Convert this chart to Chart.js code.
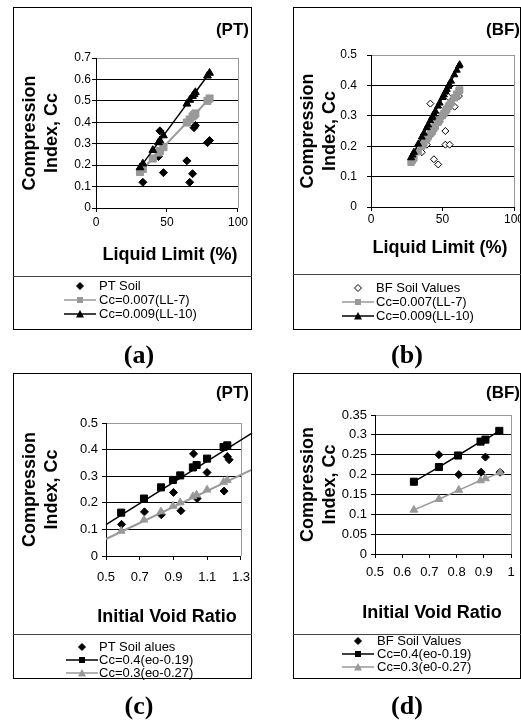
<!DOCTYPE html>
<html>
<head>
<meta charset="utf-8">
<title>Compression index correlations</title>
<script src="https://cdn.jsdelivr.net/npm/chart.js@4.4.1/dist/chart.umd.min.js"></script>
<style>
  html, body { margin: 0; padding: 0; background: #fff; }
  body { position: relative; width: 521px; height: 724px; overflow: hidden;
         font-family: Arial, "Liberation Sans", sans-serif; color: #000; }
  canvas, .frame, .sep, .tag, .row, .caption { position: absolute; }
  .frame { border: 1px solid #000; box-sizing: border-box; }
  .sep { height: 0; border-top: 1px solid #444; }
  .tag { font-weight: bold; font-size: 17px; line-height: 20px; transform: translate(-100%, -50%); white-space: nowrap; }
  .row { font-size: 13px; line-height: 14px; white-space: nowrap; }
  .row svg { position: absolute; top: 1px; }
  .caption { font-family: "Times New Roman", "Liberation Serif", serif; font-weight: bold;
             font-size: 26px; line-height: 30px; transform: translate(-50%, -50%); }
</style>
</head>
<body>
<script>
// (a) PT soil: liquid limit (%) against compression index
const ptLL    = [33, 44, 45, 47.5, 64, 66, 68, 69, 70, 78.5, 80];
const ptCc    = [0.12, 0.24, 0.36, 0.165, 0.22, 0.12, 0.16, 0.375, 0.385, 0.305, 0.315];
const ptFitLL = [31, 33, 40, 44, 45, 47.5, 64, 66, 68, 69, 70, 78.5, 80];
const ptFit7  = [0.168, 0.182, 0.231, 0.259, 0.266, 0.284, 0.399, 0.413, 0.427, 0.434, 0.441, 0.5, 0.511];
const ptFit10 = [0.189, 0.207, 0.27, 0.306, 0.315, 0.338, 0.486, 0.504, 0.522, 0.531, 0.54, 0.617, 0.63];

// (b) BF soil: liquid limit (%) against compression index
const bfLL    = [35.5, 39, 41.5, 42.5, 44, 47, 48, 50.5, 52, 52, 54, 55, 58.5, 61.5];
const bfCc    = [0.18, 0.205, 0.34, 0.24, 0.157, 0.14, 0.28, 0.3, 0.25, 0.205, 0.362, 0.205, 0.33, 0.365];
const bfFitLL = [28, 29, 30, 33, 35.5, 37, 39, 40, 41.5, 42.5, 43, 44, 45, 46.9, 48, 50, 51, 52.2, 53, 54.1, 54.8, 56, 58.3, 60, 61.5, 62];
const bfFit7  = [0.147, 0.154, 0.161, 0.182, 0.2, 0.21, 0.224, 0.231, 0.242, 0.249, 0.252, 0.259, 0.266, 0.279, 0.287,
                 0.301, 0.308, 0.316, 0.322, 0.33, 0.335, 0.343, 0.359, 0.371, 0.382, 0.385];
const bfFit10 = [0.162, 0.171, 0.18, 0.207, 0.23, 0.243, 0.261, 0.27, 0.284, 0.293, 0.297, 0.306, 0.315, 0.332, 0.342,
                 0.36, 0.369, 0.38, 0.387, 0.397, 0.403, 0.414, 0.435, 0.45, 0.464, 0.468];

// (c) PT soil: initial void ratio against compression index
const ptE       = [0.592, 0.728, 0.828, 0.9, 0.944, 1.019, 1.04, 1.099, 1.2, 1.219, 1.23];
const ptCcE     = [0.119, 0.166, 0.155, 0.239, 0.17, 0.384, 0.216, 0.314, 0.244, 0.374, 0.362];
const ptFitE    = [0.59, 0.725, 0.826, 0.897, 0.94, 1.015, 1.037, 1.099, 1.197, 1.219];
const ptFit019  = [0.163, 0.216, 0.258, 0.286, 0.303, 0.333, 0.342, 0.366, 0.41, 0.416];
const ptFit027  = [0.094, 0.136, 0.167, 0.188, 0.201, 0.224, 0.23, 0.249, 0.278, 0.285];
const ptTrendE  = [0.5, 1.365];
const ptTrend019 = [0.118, 0.462];
const ptTrend027 = [0.064, 0.325];

// (d) BF soil: initial void ratio against compression index
const bfE      = [0.735, 0.808, 0.89, 0.906, 0.96];
const bfCcE    = [0.25, 0.2, 0.206, 0.244, 0.206];
const bfFitE   = [0.643, 0.735, 0.805, 0.888, 0.906, 0.957];
const bfFit019 = [0.182, 0.219, 0.248, 0.283, 0.288, 0.31];
const bfFitE2  = [0.643, 0.735, 0.808, 0.888, 0.906, 0.96];
const bfFit027 = [0.111, 0.138, 0.161, 0.185, 0.19, 0.205];

// axis ranges: [min, max, step]
const llRange  = [0, 100, 50];
const ccRangeA = [0, 0.7, 0.1];
const ccRangeB = [0, 0.5, 0.1];
const eRangeC  = [0.5, 1.3, 0.2];
const ccRangeC = [0, 0.5, 0.1];
const eRangeD  = [0.5, 1, 0.1];
const ccRangeD = [0, 0.35, 0.05];

const legendA = ['PT Soil', 'Cc=0.007(LL-7)', 'Cc=0.009(LL-10)'];
const legendB = ['BF Soil Values', 'Cc=0.007(LL-7)', 'Cc=0.009(LL-10)'];
const legendC = ['PT Soil alues', 'Cc=0.4(eo-0.19)', 'Cc=0.3(eo-0.27)'];
const legendD = ['BF Soil Values', 'Cc=0.4(eo-0.19)', 'Cc=0.3(e0-0.27)'];

const FONT = 'Arial, "Liberation Sans", sans-serif';
const GRAY = '#999';
const BLACK = '#000';

const fmt = v => String(+(+v).toFixed(2));
const pts = (xs, ys) => xs.map((x, i) => ({ x, y: ys[i] }));

function soil(xs, ys, open, r, order) {
  return { data: pts(xs, ys), showLine: false, pointStyle: 'rectRot', pointRadius: r,
           pointBackgroundColor: open ? '#fff' : BLACK, pointBorderColor: BLACK, pointBorderWidth: 1, order };
}
function series(xs, ys, color, style, r, lw, order) {
  return { data: pts(xs, ys), showLine: lw > 0, borderColor: color, borderWidth: lw, pointStyle: style,
           pointRadius: r, pointBackgroundColor: color, pointBorderColor: color, pointBorderWidth: 1, order };
}
function trend(xs, ys, color, lw, order) {
  return { data: pts(xs, ys), showLine: true, borderColor: color, borderWidth: lw, pointRadius: 0, clip: false, order };
}

// grey right edge of the plot area
const plotFrame = {
  id: 'plotFrame',
  beforeDatasetsDraw(chart) {
    const { ctx, chartArea: a } = chart;
    const x = Math.round(a.right) + 0.5;
    ctx.save();
    ctx.strokeStyle = GRAY;
    ctx.lineWidth = 1;
    ctx.beginPath();
    ctx.moveTo(x, a.top);
    ctx.lineTo(x, a.bottom);
    ctx.stroke();
    ctx.restore();
  }
};

// x axis title, placed freely so it is not squeezed to the plot width
const xTitle = {
  id: 'xTitle',
  afterDraw(chart, args, opts) {
    const ctx = chart.ctx;
    ctx.save();
    ctx.font = 'bold 18px ' + FONT;
    ctx.fillStyle = BLACK;
    ctx.textAlign = 'center';
    ctx.textBaseline = 'middle';
    ctx.fillText(opts.text, opts.x, opts.y);
    ctx.restore();
  }
};

function makeChart(p, datasets) {
  const [cx, cy, cw, ch] = p.canvas;
  const cv = document.createElement('canvas');
  cv.width = cw;
  cv.height = ch;
  Object.assign(cv.style, { left: cx + 'px', top: cy + 'px', width: cw + 'px', height: ch + 'px' });
  document.body.appendChild(cv);

  const left = p.plot[0] - cx, top = p.plot[1] - cy;
  const right = p.plot[2] - cx, bottom = p.plot[3] - cy;
  const lh = 18 * 1.25;
  const titleFont = { family: FONT, size: 18, weight: 'bold', lineHeight: 1.25 };
  const tickFont = { family: FONT, size: p.tickSize };
  const [xMin, xMax, xStep] = p.xRange;
  const [yMin, yMax, yStep] = p.yRange;

  new Chart(cv, {
    type: 'scatter',
    data: { datasets },
    options: {
      responsive: false,
      animation: false,
      devicePixelRatio: 1,
      layout: { padding: { left: 0, top, right: cw - right, bottom: 0 } },
      plugins: {
        legend: { display: false },
        tooltip: { enabled: false },
        xTitle: { text: p.xTitle, x: p.xTitlePos[0] - cx, y: p.xTitlePos[1] - cy }
      },
      elements: { line: { tension: 0 } },
      scales: {
        x: {
          type: 'linear', min: xMin, max: xMax,
          ticks: { stepSize: xStep, callback: fmt, color: BLACK, font: tickFont, padding: p.xTickPad,
                   maxRotation: 0, autoSkip: false },
          grid: { drawOnChartArea: false, tickLength: 4, color: BLACK },
          border: { color: BLACK, width: 1 },
          afterFit: s => { s.height = ch - bottom; }
        },
        y: {
          type: 'linear', min: yMin, max: yMax,
          ticks: { stepSize: yStep, callback: fmt, color: BLACK, font: tickFont, padding: p.yTickPad },
          grid: { color: c => (c.tick && c.tick.value >= yMax - 1e-9) ? GRAY : BLACK, tickColor: BLACK, tickLength: 4 },
          border: { color: BLACK, width: 1 },
          title: { display: true, text: ['Compression', 'Index, Cc'], color: BLACK, font: titleFont,
                   padding: { top: p.yTitleX - cx - lh / 2, bottom: 0 } },
          afterFit: s => { s.width = left; }
        }
      }
    },
    plugins: [plotFrame, xTitle]
  });
}

function icon(shape, color, line) {
  let s = '<svg width="32" height="12" viewBox="0 0 32 12">';
  if (line) s += `<line x1="0" y1="6" x2="32" y2="6" stroke="${color}" stroke-width="1.5"/>`;
  if (shape === 'diamond' || shape === 'openDiamond') {
    s += `<polygon points="16,2.5 19.5,6 16,9.5 12.5,6" fill="${shape === 'diamond' ? BLACK : '#fff'}" stroke="${BLACK}" stroke-width="1"/>`;
  } else if (shape === 'square') {
    s += `<rect x="13" y="3" width="6" height="6" fill="${color}"/>`;
  } else {
    s += `<polygon points="16,2 20,9.5 12,9.5" fill="${color}"/>`;
  }
  return s + '</svg>';
}

function addDiv(cls, css) {
  const d = document.createElement('div');
  d.className = cls;
  Object.assign(d.style, css);
  document.body.appendChild(d);
  return d;
}

function drawFrame(p, labels, marks) {
  const [x0, y0, x1, y1] = p.box;
  addDiv('frame', { left: x0 + 'px', top: y0 + 'px', width: (x1 - x0) + 'px', height: (y1 - y0) + 'px' });
  addDiv('sep', { left: x0 + 'px', top: p.sep + 'px', width: (x1 - x0) + 'px' });
  addDiv('tag', { left: p.tag[0] + 'px', top: p.tag[1] + 'px' }).textContent = p.tagText;
  labels.forEach((text, i) => {
    const row = addDiv('row', { left: p.iconX + 'px', top: (p.rows[i] - 7) + 'px', paddingLeft: (p.textX - p.iconX) + 'px' });
    row.innerHTML = icon(marks[i][0], marks[i][1], marks[i][2]);
    row.firstChild.style.left = '0px';
    row.appendChild(document.createTextNode(text));
  });
  addDiv('caption', { left: p.caption[0] + 'px', top: p.caption[1] + 'px' }).textContent = p.captionText;
}

const panelA = {
  canvas: [14, 8, 237, 268], plot: [96, 58, 240, 208], xRange: llRange, yRange: ccRangeA,
  tickSize: 12, xTickPad: 3, yTickPad: 1, xTitle: 'Liquid Limit (%)', xTitlePos: [170, 255], yTitleX: 30,
  box: [13, 7, 252, 330], sep: 276, tag: [249, 30], tagText: '(PT)',
  iconX: 64, textX: 99, rows: [286, 300, 314], caption: [139, 355], captionText: '(a)'
};
const panelB = {
  canvas: [294, 8, 240, 266], plot: [371, 55, 514, 207], xRange: llRange, yRange: ccRangeB,
  tickSize: 12, xTickPad: 1, yTickPad: 10, xTitle: 'Liquid Limit (%)', xTitlePos: [440, 248], yTitleX: 308,
  box: [293, 7, 521, 330], sep: 274, tag: [520, 30], tagText: '(BF)',
  iconX: 342, textX: 376, rows: [288, 302, 316], caption: [407, 355], captionText: '(b)'
};
const panelC = {
  canvas: [14, 374, 246, 260], plot: [106, 423, 248, 556], xRange: eRangeC, yRange: ccRangeC,
  tickSize: 13, xTickPad: 10, yTickPad: 4, xTitle: 'Initial Void Ratio', xTitlePos: [167, 617], yTitleX: 30,
  box: [13, 373, 252, 679], sep: 634, tag: [249, 393], tagText: '(PT)',
  iconX: 66, textX: 99, rows: [647, 660, 673], caption: [139, 706], captionText: '(c)'
};
const panelD = {
  canvas: [294, 374, 240, 260], plot: [375, 415, 511, 554], xRange: eRangeD, yRange: ccRangeD,
  tickSize: 13, xTickPad: 7, yTickPad: 4, xTitle: 'Initial Void Ratio', xTitlePos: [432, 613], yTitleX: 308,
  box: [293, 373, 521, 679], sep: 634, tag: [520, 393], tagText: '(BF)',
  iconX: 342, textX: 377, rows: [641, 654, 667], caption: [407, 706], captionText: '(d)'
};

makeChart(panelA, [
  soil(ptLL, ptCc, false, 4, 3),
  series(ptFitLL, ptFit7, GRAY, 'rect', 5, 2, 2),
  series(ptFitLL, ptFit10, BLACK, 'triangle', 4.5, 1.5, 1)
]);
makeChart(panelB, [
  soil(bfLL, bfCc, true, 3.5, 3),
  series(bfFitLL, bfFit7, GRAY, 'rect', 4.5, 2, 2),
  series(bfFitLL, bfFit10, BLACK, 'triangle', 4, 1.5, 1)
]);
makeChart(panelC, [
  soil(ptE, ptCcE, false, 4, 3),
  trend(ptTrendE, ptTrend019, BLACK, 1.5, 2),
  series(ptFitE, ptFit019, BLACK, 'rect', 5, 0, 2),
  trend(ptTrendE, ptTrend027, GRAY, 2, 1),
  series(ptFitE, ptFit027, GRAY, 'triangle', 4.5, 0, 1)
]);
makeChart(panelD, [
  soil(bfE, bfCcE, false, 4, 3),
  series(bfFitE, bfFit019, BLACK, 'rect', 5, 1.5, 2),
  series(bfFitE2, bfFit027, GRAY, 'triangle', 4.5, 1.5, 1)
]);

drawFrame(panelA, legendA, [['diamond', BLACK, false], ['square', GRAY, true], ['triangle', BLACK, true]]);
drawFrame(panelB, legendB, [['openDiamond', BLACK, false], ['square', GRAY, true], ['triangle', BLACK, true]]);
drawFrame(panelC, legendC, [['diamond', BLACK, false], ['square', BLACK, true], ['triangle', GRAY, true]]);
drawFrame(panelD, legendD, [['diamond', BLACK, false], ['square', BLACK, true], ['triangle', GRAY, true]]);
</script>
</body>
</html>
